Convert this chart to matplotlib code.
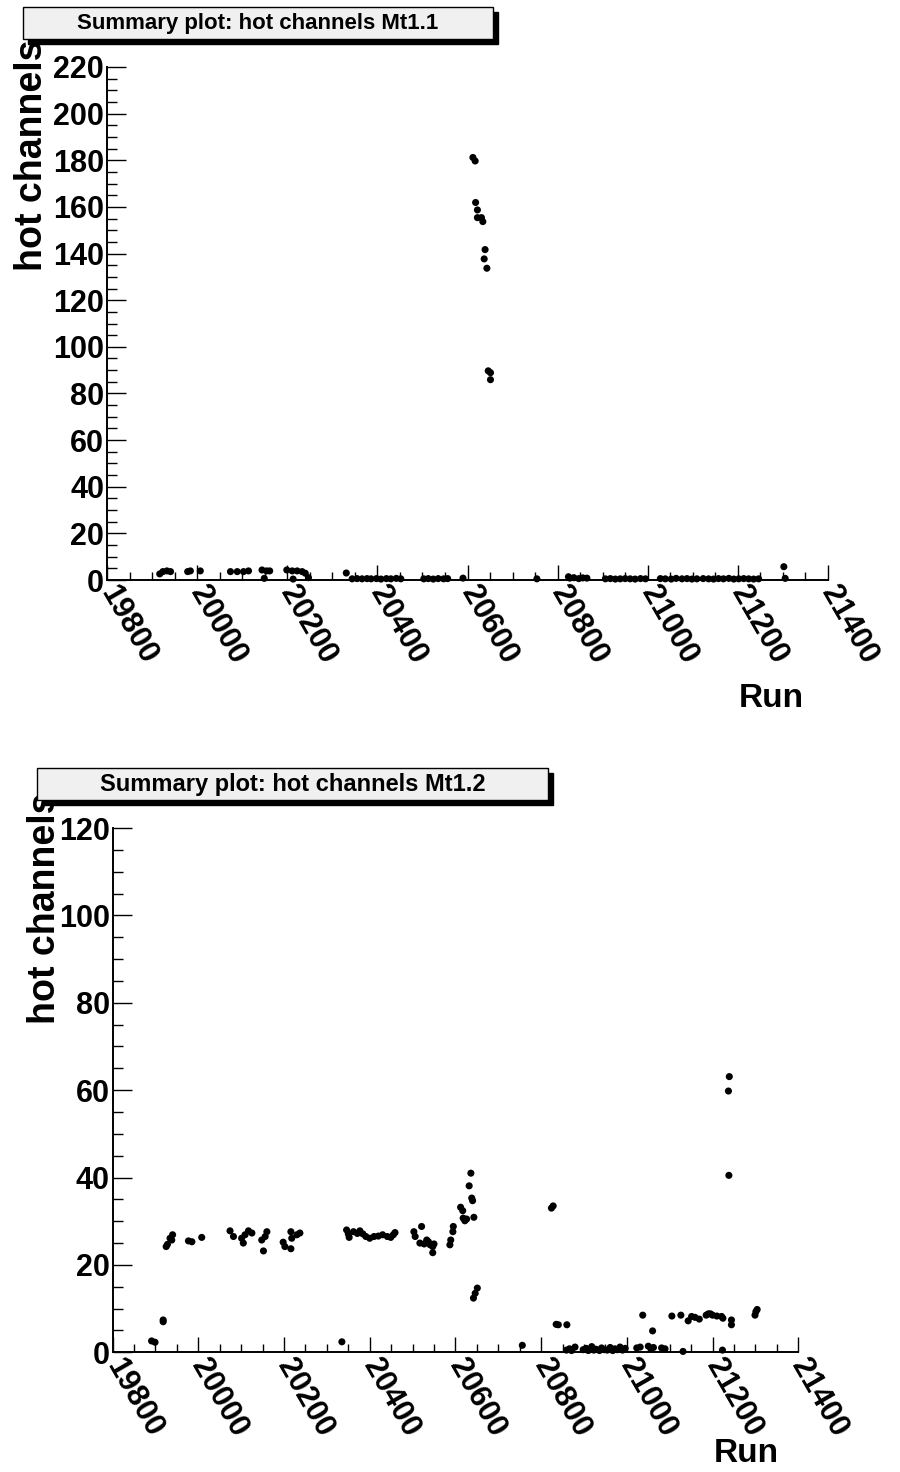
import matplotlib
matplotlib.use("Agg")
import matplotlib.pyplot as plt
from matplotlib.patches import Rectangle
from matplotlib.ticker import MultipleLocator

plt.rcParams["font.family"] = ["Liberation Sans", "DejaVu Sans"]
plt.rcParams["font.weight"] = "bold"

W, H = 900, 1472

# Mt1.1 : run number vs number of hot channels
run1 = [19917, 19924, 19933, 19941, 19979, 19985, 20007, 20074, 20089, 20103,
        20114, 20144, 20154, 20161, 20149, 20199, 20211, 20222, 20233, 20240,
        20213, 20247, 20331, 20344, 20355, 20366, 20377, 20386, 20398, 20408,
        20420, 20430, 20442, 20452, 20503, 20513, 20524, 20535, 20547, 20556,
        20590, 20612, 20617, 20618, 20622, 20622, 20631, 20634, 20639, 20637,
        20643, 20646, 20651, 20651, 20754, 20824, 20827, 20836, 20847, 20856,
        20865, 20906, 20917, 20928, 20939, 20950, 20961, 20972, 20984, 20995,
        21028, 21039, 21052, 21063, 21076, 21087, 21098, 21109, 21123, 21135,
        21146, 21157, 21168, 21180, 21191, 21202, 21213, 21224, 21235, 21246,
        21302, 21305]
hot1 = [2.6, 3.6, 3.9, 3.6, 3.6, 3.9, 3.9, 3.6, 3.6, 3.6,
        3.9, 4.3, 3.9, 3.9, 0.7, 4.3, 3.9, 3.9, 3.6, 2.9,
        0.4, 1.0, 3.0, 0.5, 0.6, 0.5, 0.6, 0.5, 0.6, 0.4,
        0.6, 0.5, 0.7, 0.5, 0.5, 0.6, 0.4, 0.6, 0.5, 0.6,
        0.8, 181.2, 179.7, 161.9, 158.7, 155.4, 155.4, 153.7, 141.7, 137.7,
        133.7, 89.7, 88.9, 85.9, 0.5, 1.4, 0.8, 1.0, 0.6, 0.9,
        0.8, 0.5, 0.6, 0.4, 0.5, 0.6, 0.5, 0.4, 0.6, 0.5,
        0.6, 0.5, 0.4, 0.7, 0.5, 0.6, 0.4, 0.5, 0.6, 0.5,
        0.4, 0.6, 0.5, 0.7, 0.4, 0.5, 0.6, 0.5, 0.4, 0.5,
        5.7, 0.7]

# Mt1.2
run2 = [19891, 19899, 19918, 19918, 19925, 19928, 19934, 19940, 19938, 19977,
        19985, 20008, 20074, 20082, 20101, 20109, 20117, 20125, 20105, 20148,
        20156, 20160, 20152, 20198, 20202, 20216, 20218, 20230, 20237, 20216,
        20335, 20346, 20350, 20352, 20362, 20371, 20377, 20384, 20391, 20400,
        20410, 20420, 20430, 20441, 20449, 20455, 20459, 20503, 20506, 20521,
        20517, 20527, 20533, 20537, 20541, 20547, 20547, 20550, 20587, 20589,
        20594, 20595, 20612, 20617, 20618, 20622, 20626, 20632, 20636, 20638,
        20640, 20643, 20642, 20646, 20651, 20756, 20824, 20828, 20835, 20840,
        20860, 20859, 20866, 20871, 20879, 20898, 20905, 20910, 20918, 20923,
        20928, 20936, 20941, 20947, 20954, 20961, 20967, 20972, 20977, 20984,
        20990, 20996, 21023, 21031, 21050, 21056, 21062, 21081, 21089, 21131,
        21037, 21060, 21105, 21126, 21143, 21151, 21159, 21169, 21185, 21190,
        21195, 21200, 21210, 21221, 21224, 21244, 21244, 21223, 21299, 21301,
        21304, 21239, 21237, 21238]
hot2 = [2.6, 2.3, 7.4, 7.0, 24.2, 24.7, 26.1, 26.9, 25.7, 25.5,
        25.3, 26.3, 27.8, 26.5, 26.1, 26.9, 27.8, 27.3, 25.0, 25.7,
        26.5, 27.6, 23.2, 25.2, 24.2, 23.7, 26.1, 26.9, 27.3, 27.6,
        2.4, 28.0, 27.1, 26.3, 27.6, 27.2, 27.8, 27.1, 26.5, 26.1,
        26.5, 26.6, 26.9, 26.5, 26.3, 26.9, 27.4, 27.6, 26.5, 28.8,
        25.0, 24.8, 25.7, 25.3, 24.6, 24.2, 22.8, 24.8, 24.6, 25.7,
        27.6, 28.8, 33.2, 32.4, 30.7, 30.1, 30.5, 38.1, 41.0, 35.3,
        34.7, 30.9, 12.4, 13.5, 14.7, 1.6, 33.0, 33.5, 6.4, 6.3,
        6.3, 0.5, 0.8, 0.4, 1.2, 0.6, 0.9, 0.4, 1.3, 0.5,
        0.7, 0.4, 1.0, 0.6, 0.5, 1.1, 0.4, 0.8, 0.6, 1.2,
        0.5, 0.9, 1.0, 1.2, 1.4, 0.9, 1.1, 1.0, 0.8, 0.2,
        8.5, 4.9, 8.3, 8.5, 7.2, 8.2, 8.0, 7.6, 8.5, 8.8,
        8.8, 8.5, 8.3, 8.2, 7.8, 7.4, 6.3, 0.5, 8.5, 9.3,
        9.8, 63.1, 59.8, 40.5]

xticks = [19800, 20000, 20200, 20400, 20600, 20800, 21000, 21200, 21400]


def px_axes(fig, x0, y0, x1, y1):
    # pixel box (left, top, right, bottom) -> figure axes
    return fig.add_axes([x0 / W, 1 - y1 / H, (x1 - x0) / W, (y1 - y0) / H])


def title_box(fig, x0, y0, x1, y1, text, size):
    sh = 5
    fig.add_artist(Rectangle((x0 / W + sh / W, 1 - (y1 + sh) / H), (x1 - x0) / W, (y1 - y0) / H,
                             transform=fig.transFigure, facecolor="black", edgecolor="black"))
    fig.add_artist(Rectangle((x0 / W, 1 - y1 / H), (x1 - x0) / W, (y1 - y0) / H,
                             transform=fig.transFigure, facecolor="#f0f0f0", edgecolor="black", lw=1))
    fig.text((x0 + x1) / 2 / W, 1 - (y0 + y1) / 2 / H, text, ha="center", va="center",
             fontsize=size, fontweight="bold")


def style(ax, ymax, ymajor, ylab_xy, run_xy):
    ax.set_xlim(19800, 21400)
    ax.set_ylim(0, ymax)
    for s in ["top", "right"]:
        ax.spines[s].set_visible(False)
    for s in ["left", "bottom"]:
        ax.spines[s].set_linewidth(1.4)
    ax.set_xticks(xticks)
    ax.xaxis.set_minor_locator(MultipleLocator(50))
    ax.yaxis.set_major_locator(MultipleLocator(ymajor))
    ax.yaxis.set_minor_locator(MultipleLocator(ymajor / 4))
    ax.tick_params(axis="y", which="major", direction="in", length=14, width=1, labelsize=22, pad=2)
    ax.tick_params(axis="y", which="minor", direction="in", length=7, width=1)
    ax.tick_params(axis="x", which="major", direction="in", length=11, width=1, labelsize=22, pad=6)
    ax.tick_params(axis="x", which="minor", direction="in", length=5.5, width=1)
    for lab in ax.get_xticklabels():
        lab.set_rotation(-60)
        lab.set_rotation_mode("anchor")
        lab.set_ha("left")
        lab.set_va("center")
    for lab in ax.get_xticklabels() + ax.get_yticklabels():
        lab.set_fontweight("bold")
    ax.set_ylabel("hot channels", fontsize=27, fontweight="bold")
    ax.yaxis.set_label_coords(*ylab_xy)
    ax.set_xlabel("Run", fontsize=24, fontweight="bold")
    ax.xaxis.set_label_coords(*run_xy)


fig = plt.figure(figsize=(W / 100, H / 100), dpi=100)

ax1 = px_axes(fig, 107, 67, 828, 580)
ax1.scatter(run1, hot1, s=26, c="black", edgecolors="none", clip_on=False, zorder=3)
style(ax1, 220, 20, (-0.079, 0.828), (0.921, -0.2))
title_box(fig, 23, 7, 493, 39, "Summary plot: hot channels Mt1.1", 16)

ax2 = px_axes(fig, 112.6, 828, 798.3, 1352.3)
ax2.scatter(run2, hot2, s=26, c="black", edgecolors="none", clip_on=False, zorder=3)
style(ax2, 120, 20, (-0.073, 0.847), (0.924, -0.164))
title_box(fig, 37, 768, 548, 800, "Summary plot: hot channels Mt1.2", 17)

fig.savefig("out.png", dpi=100)
